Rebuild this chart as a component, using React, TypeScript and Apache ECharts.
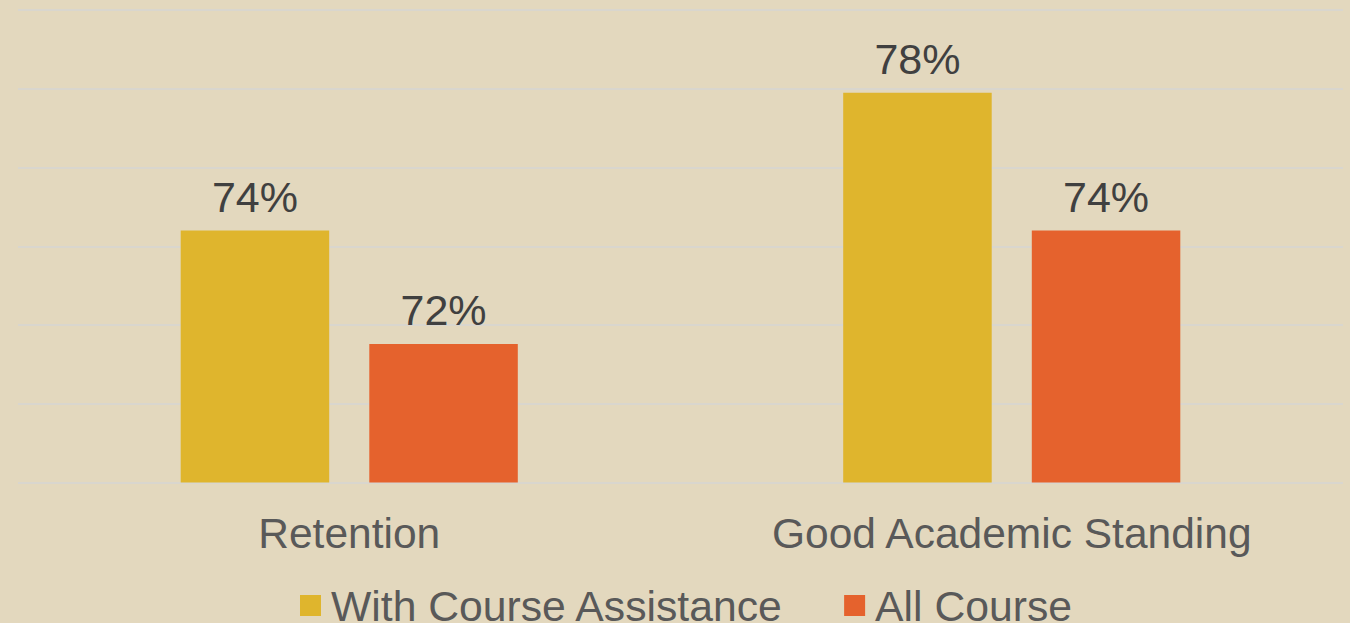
import React, { useEffect, useRef } from "react";
import * as echarts from "echarts";

const categories = ["Retention", "Good Academic Standing"];
const seriesNames = ["With Course Assistance", "All Course"];
const withAssistance = [0.744, 0.779];
const allCourse = [0.7152, 0.744];
const colors = ["#DFB52D", "#E5622D"];

const FONT = "'Liberation Sans', Arial, sans-serif";

export default function App() {
  const ref = useRef<HTMLDivElement>(null);
  useEffect(() => {
    if (!ref.current) return;
    const chart = echarts.init(ref.current, undefined, { renderer: "svg" });
    const labelCfg = {
      show: true,
      position: "top",
      distance: 12,
      color: "#404040",
      fontSize: 43,
      fontFamily: FONT,
      formatter: (p: any) => Math.round(p.value * 100) + "%",
    };
    chart.setOption({
      animation: false,
      backgroundColor: "#E3D8BE",
      textStyle: { fontFamily: FONT },
      grid: { left: 18, right: 7, top: 10, bottom: 140.5, containLabel: false },
      legend: {
        data: seriesNames,
        left: 295,
        top: 579,
        itemWidth: 21,
        itemHeight: 21,
        itemGap: 60,
        icon: "rect",
        textStyle: { color: "#595959", fontSize: 42.7, fontFamily: FONT, padding: [0, 0, 0, 5] },
      },
      xAxis: {
        type: "category",
        data: categories,
        axisLine: { show: false },
        axisTick: { show: false },
        axisLabel: { color: "#595959", fontSize: 42.5, fontFamily: FONT, margin: 29 },
      },
      yAxis: {
        type: "value",
        min: 0.68,
        max: 0.8,
        interval: 0.02,
        axisLabel: { show: false },
        axisLine: { show: false },
        axisTick: { show: false },
        splitLine: { lineStyle: { color: "#D9D6CE", width: 2 } },
      },
      series: [
        {
          name: seriesNames[0],
          type: "bar",
          data: withAssistance,
          barWidth: 148.5,
          barGap: "27%",
          itemStyle: { color: colors[0] },
          label: labelCfg,
        },
        {
          name: seriesNames[1],
          type: "bar",
          data: allCourse,
          barWidth: 148.5,
          barGap: "27%",
          itemStyle: { color: colors[1] },
          label: labelCfg,
        },
      ],
    });
    return () => chart.dispose();
  }, []);
  return (
    <div
      ref={ref}
      style={{ position: "fixed", left: 0, top: 0, width: 1350, height: 623 }}
    />
  );
}
